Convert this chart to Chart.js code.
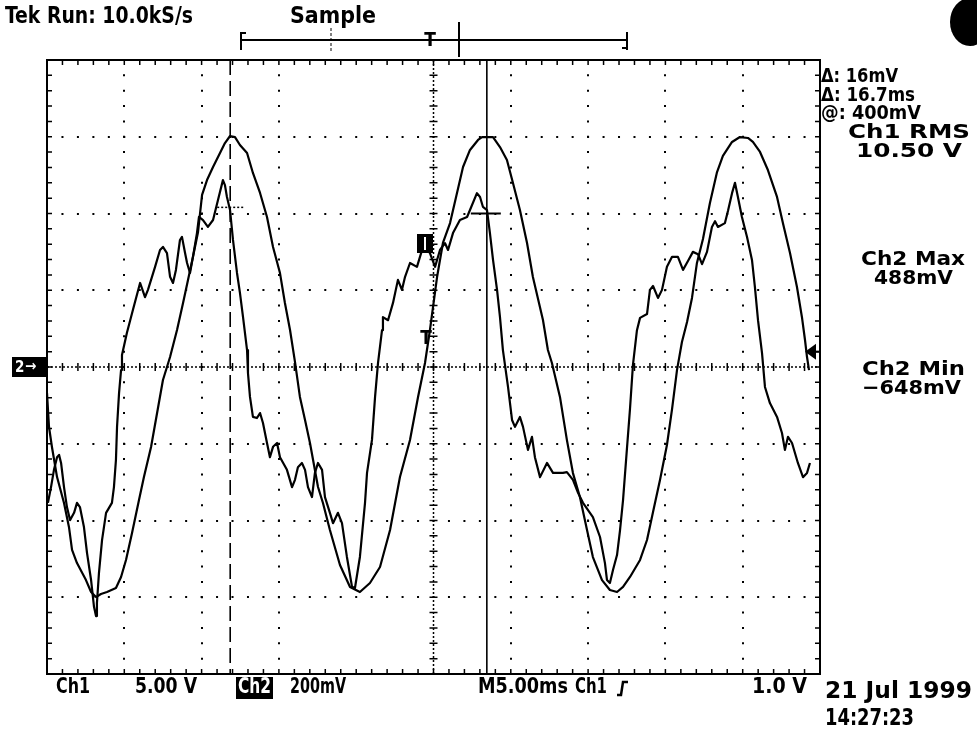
<!DOCTYPE html>
<html>
<head>
<meta charset="utf-8">
<script src="https://cdn.jsdelivr.net/npm/chart.js@4.4.1/dist/chart.umd.min.js"></script>
<style>
  html, body { margin: 0; padding: 0; background: #fff; }
  canvas { display: block; }
</style>
</head>
<body>
<canvas id="scope" width="977" height="729"></canvas>
<script>
// Time base: 5 ms/div over 10 divisions
const timeTicks = [0, 5, 10, 15, 20, 25, 30, 35, 40, 45, 50];
// Ch1: 5.00 V/div, Ch2: 200 mV/div, 8 divisions each
const ch1Ticks = [-20, -15, -10, -5, 0, 5, 10, 15, 20];
const ch2Range = [-800, 800];

// Ch1 trace (ms, V)
const ch1Time = [0.00, 0.13, 0.32, 0.65, 1.10, 1.42, 1.62, 1.94, 2.52, 2.85,
  3.17, 3.49, 3.88, 4.46, 4.79, 5.11, 5.50, 5.95, 6.27, 6.73,
  7.50, 7.96, 8.41, 8.80, 9.12, 9.44, 9.77, 10.03, 10.35, 10.74,
  11.19, 11.51, 11.84, 12.16, 12.48, 12.94, 13.32, 13.78, 14.23, 14.62,
  15.07, 15.39, 15.72, 16.04, 16.36, 16.69, 17.01, 17.53, 17.85, 18.30,
  18.95, 19.60, 20.24, 20.89, 21.54, 22.19, 22.83, 23.48, 24.00, 24.45,
  24.77, 25.23, 25.61, 26.07, 26.52, 26.91, 27.36, 27.88, 28.14, 28.85,
  29.30, 29.75, 30.14, 30.59, 31.05, 31.43, 32.08, 32.40, 32.66, 33.18,
  33.63, 34.02, 34.47, 34.93, 35.31, 35.90, 36.41, 36.87, 37.26, 37.71,
  38.36, 38.81, 39.20, 39.65, 40.10, 40.43, 40.75, 41.07, 41.40, 41.72,
  42.04, 42.43, 42.88, 43.34, 43.72, 44.31, 44.82, 45.34, 45.66, 46.12,
  46.63, 47.22, 47.60, 48.06, 48.51, 48.83, 49.03, 49.16, 49.29];
const ch1Volts = [-1.69, -3.91, -5.21, -7.17, -8.86, -10.42, -11.92, -12.77, -13.88, -14.66,
  -14.99, -14.79, -14.66, -14.40, -13.68, -12.57, -10.81, -8.66, -7.17, -5.21,
  -0.85, 0.65, 2.41, 4.17, 5.67, 7.17, 8.80, 11.21, 12.18, 13.03,
  13.94, 14.59, 15.05, 14.98, 14.46, 13.94, 12.64, 11.34, 9.77, 7.82,
  6.12, 4.17, 2.41, 0.33, -1.95, -3.45, -4.95, -7.82, -8.86, -10.62,
  -12.90, -14.33, -14.66, -14.07, -13.03, -10.62, -7.17, -4.76, -1.95, 0.26,
  2.41, 5.86, 8.08, 9.38, 11.34, 13.03, 14.14, 14.79, 14.98, 14.98,
  14.33, 13.49, 11.99, 10.23, 8.08, 5.86, 3.06, 1.11, 0.26, -1.95,
  -4.76, -6.91, -8.47, -10.62, -12.38, -13.88, -14.53, -14.66, -14.33, -13.68,
  -12.57, -11.27, -9.45, -7.36, -5.08, -2.74, -0.20, 1.63, 2.93, 4.50,
  6.78, 8.34, 10.68, 12.70, 13.75, 14.66, 14.98, 14.92, 14.66, 14.01,
  12.83, 11.08, 9.38, 7.43, 5.21, 3.26, 1.76, 0.65, -0.20];

// Ch2 trace (ms, mV)
const ch2Time = [0.06, 0.26, 0.45, 0.65, 0.78, 0.91, 1.10, 1.29, 1.49, 1.75,
  1.94, 2.13, 2.39, 2.59, 2.85, 3.04, 3.17, 3.23, 3.36, 3.56,
  3.82, 4.01, 4.20, 4.33, 4.46, 4.53, 4.66, 4.79, 4.85, 5.17,
  5.56, 6.02, 6.34, 6.53, 6.79, 6.99, 7.31, 7.50, 7.76, 7.96,
  8.15, 8.34, 8.60, 8.73, 8.93, 9.06, 9.25, 9.44, 9.70, 9.83,
  10.09, 10.41, 10.74, 11.06, 11.38, 11.51, 11.64, 11.84, 12.03, 12.29,
  12.48, 12.68, 12.94, 13.00, 13.13, 13.32, 13.58, 13.78, 13.97, 14.23,
  14.42, 14.62, 14.88, 15.07, 15.52, 15.85, 16.04, 16.23, 16.49, 16.69,
  16.88, 17.14, 17.33, 17.53, 17.79, 17.98, 18.30, 18.50, 18.82, 19.08,
  19.40, 19.73, 19.92, 20.24, 20.57, 20.70, 21.02, 21.22, 21.41, 21.67,
  21.73, 22.06, 22.38, 22.70, 22.96, 23.16, 23.48, 23.93, 24.32, 24.77,
  25.10, 25.42, 25.74, 25.94, 26.26, 26.71, 27.17, 27.36, 27.81, 28.01,
  28.20, 28.46, 28.65, 28.85, 29.11, 29.30, 29.49, 29.82, 30.08, 30.27,
  30.59, 30.79, 31.11, 31.37, 31.56, 31.89, 32.34, 32.73, 33.37, 33.63,
  34.02, 34.35, 34.67, 35.31, 35.77, 36.09, 36.22, 36.41, 36.61, 36.87,
  37.06, 37.26, 37.51, 37.71, 37.90, 38.16, 38.36, 38.81, 39.00, 39.20,
  39.52, 39.78, 40.10, 40.43, 40.81, 41.14, 41.46, 41.78, 42.11, 42.37,
  42.69, 43.01, 43.21, 43.40, 43.85, 44.05, 44.31, 44.50, 44.69, 44.95,
  45.28, 45.60, 45.79, 45.99, 46.25, 46.44, 46.76, 47.22, 47.54, 47.73,
  47.93, 48.19, 48.57, 48.90, 49.16, 49.35];
const ch2MilliVolts = [-354, -313, -268, -235, -229, -250, -313, -365, -399, -380,
  -354, -365, -417, -485, -555, -625, -649, -615, -537, -451,
  -380, -367, -354, -313, -242, -156, -68, -8, 31, 89,
  149, 219, 182, 201, 235, 261, 305, 313, 297, 235,
  219, 253, 331, 339, 297, 271, 245, 287, 349, 391,
  383, 365, 383, 435, 487, 474, 443, 409, 331, 245,
  193, 130, 44, -16, -78, -130, -133, -120, -146, -198,
  -235, -208, -198, -235, -268, -313, -294, -261, -250, -268,
  -313, -339, -276, -250, -268, -339, -380, -407, -380, -407,
  -495, -573, -576, -495, -354, -276, -190, -78, 10, 96,
  130, 122, 167, 227, 201, 235, 271, 261, 313, 297,
  261, 305, 323, 305, 349, 383, 391, 409, 453, 443,
  417, 409, 349, 279, 201, 130, 44, -52, -138, -156,
  -130, -156, -216, -182, -235, -287, -250, -276, -276, -274,
  -294, -328, -354, -391, -443, -511, -555, -563, -529, -490,
  -427, -347, -214, -109, 5, 96, 128, 138, 201, 211,
  180, 201, 261, 287, 287, 253, 276, 300, 294, 268,
  300, 365, 380, 365, 375, 407, 453, 480, 443, 391,
  339, 279, 208, 122, 36, -52, -94, -130, -172, -216,
  -182, -198, -250, -287, -276, -250];

// Cursors: times (ms) and Ch2 levels (mV)
const cursorTimes = [11.85, 28.45];
const cursorLevels = [416, 400];
const triggerLevel = 1.0; // V on Ch1

const readouts = ['\u0394: 16mV', '\u0394: 16.7ms', '@: 400mV'];
const measurements = [['Ch1 RMS', '10.50 V'], ['Ch2 Max', '488mV'], ['Ch2 Min', '\u2212648mV']];

const toPoints = (xs, ys) => xs.map((x, i) => ({ x: x, y: ys[i] }));

const COND = '"DejaVu Sans Condensed", "Liberation Sans Narrow", "DejaVu Sans", sans-serif';
const WIDE = '"DejaVu Sans", "Liberation Sans", sans-serif';

// draw text stretched to a given left/right extent
function fitText(ctx, s, x1, x2, cy, px, fam) {
  ctx.font = 'bold ' + px + 'px ' + fam;
  const w = ctx.measureText(s).width;
  ctx.save();
  ctx.translate(x1, cy);
  ctx.scale((x2 - x1) / w, 1);
  ctx.textBaseline = 'middle';
  ctx.textAlign = 'left';
  ctx.fillText(s, 0, 0);
  ctx.restore();
}

const scopeDecor = {
  id: 'scopeDecor',
  beforeDraw(chart) {
    const c = chart.ctx;
    c.save();
    c.fillStyle = '#fff';
    c.fillRect(0, 0, chart.width, chart.height);
    c.restore();
  },
  beforeDatasetsDraw(chart) {
    const c = chart.ctx, a = chart.chartArea;
    const xs = chart.scales.x, ys = chart.scales.y;
    const x0 = xs.getPixelForValue(25), y0 = ys.getPixelForValue(0);
    c.save();
    c.strokeStyle = '#000';
    // dense centre graticule
    c.lineWidth = 1.5;
    c.setLineDash([2, 2]);
    c.beginPath();
    c.moveTo(a.left, y0); c.lineTo(a.right, y0);
    c.moveTo(x0, a.top); c.lineTo(x0, a.bottom);
    c.stroke();
    c.setLineDash([]);
    c.beginPath();
    for (let t = 0; t <= 50; t += 1) {
      const px = xs.getPixelForValue(t);
      c.moveTo(px, y0 - 4); c.lineTo(px, y0 + 4);
      c.moveTo(px, a.top); c.lineTo(px, a.top + 5);
      c.moveTo(px, a.bottom); c.lineTo(px, a.bottom - 5);
    }
    for (let v = -20; v <= 20; v += 1) {
      const py = ys.getPixelForValue(v);
      c.moveTo(x0 - 4, py); c.lineTo(x0 + 4, py);
      c.moveTo(a.left, py); c.lineTo(a.left + 5, py);
      c.moveTo(a.right, py); c.lineTo(a.right - 5, py);
    }
    c.stroke();
    // frame
    c.lineWidth = 2;
    c.strokeRect(a.left, a.top, a.right - a.left, a.bottom - a.top);
    c.restore();
  },
  afterDatasetsDraw(chart) {
    const c = chart.ctx, a = chart.chartArea;
    const xs = chart.scales.x, ys = chart.scales.y, y2 = chart.scales.y2;
    const c1 = xs.getPixelForValue(cursorTimes[0]);
    const c2 = xs.getPixelForValue(cursorTimes[1]);
    c.save();
    c.strokeStyle = '#000';
    c.fillStyle = '#000';
    // cursors
    c.lineWidth = 1.6;
    c.setLineDash([15, 6]);
    c.beginPath(); c.moveTo(c1, a.top); c.lineTo(c1, a.bottom); c.stroke();
    c.setLineDash([]);
    c.beginPath(); c.moveTo(c2, a.top); c.lineTo(c2, a.bottom); c.stroke();
    // cursor level markers
    c.lineWidth = 2;
    c.beginPath();
    c.moveTo(c2 - 16, y2.getPixelForValue(cursorLevels[1]));
    c.lineTo(c2 + 14, y2.getPixelForValue(cursorLevels[1]));
    c.stroke();
    c.setLineDash([2, 2]);
    c.lineWidth = 1.5;
    c.beginPath();
    c.moveTo(c1 - 13, y2.getPixelForValue(cursorLevels[0]));
    c.lineTo(c1 + 13, y2.getPixelForValue(cursorLevels[0]));
    c.stroke();
    c.setLineDash([]);
    // trigger level arrow on right edge
    const ty = ys.getPixelForValue(triggerLevel);
    c.beginPath();
    c.moveTo(a.right - 15, ty); c.lineTo(a.right - 4, ty - 8); c.lineTo(a.right - 4, ty + 8);
    c.closePath(); c.fill();
    c.lineWidth = 2;
    c.beginPath(); c.moveTo(a.right - 6, ty); c.lineTo(a.right, ty); c.stroke();
    // Ch2 ground marker
    const gy = y2.getPixelForValue(0);
    c.fillRect(12, gy - 10, a.left - 13, 20);
    c.fillStyle = '#fff';
    c.font = 'bold 15px ' + COND;
    c.textBaseline = 'middle';
    c.fillText('2', 15, gy + 1);
    c.fillText('\u2192', 25, gy);
    c.fillStyle = '#000';
    // small trace markers near centre
    c.fillRect(417, 234, 16, 19);
    c.fillStyle = '#fff';
    c.fillRect(424, 237, 2, 13);
    c.fillStyle = '#000';
    c.font = 'bold 19px ' + COND;
    c.textAlign = 'center';
    c.fillText('T', 426, 339);
    c.restore();
  },
  afterDraw(chart) {
    const c = chart.ctx;
    c.save();
    c.fillStyle = '#000';
    c.strokeStyle = '#000';
    // header
    fitText(c, 'Tek Run: 10.0kS/s', 5, 193, 17, 23, COND);
    fitText(c, 'Sample', 290, 376, 17, 23, COND);
    // record bracket
    c.lineWidth = 2;
    c.beginPath();
    c.moveTo(242, 40); c.lineTo(626, 40);
    c.moveTo(241, 32); c.lineTo(241, 50);
    c.moveTo(627, 32); c.lineTo(627, 50);
    c.moveTo(241, 33); c.lineTo(246, 33);
    c.moveTo(627, 48); c.lineTo(622, 48);
    c.moveTo(459, 22); c.lineTo(459, 57);
    c.stroke();
    c.lineWidth = 1;
    c.setLineDash([3, 2]);
    c.beginPath(); c.moveTo(331, 28); c.lineTo(331, 52); c.stroke();
    c.setLineDash([]);
    c.font = 'bold 19px ' + COND;
    c.textAlign = 'center';
    c.textBaseline = 'middle';
    c.fillText('T', 430, 41);
    // corner blot
    c.beginPath(); c.ellipse(970, 22, 20, 24, 0, 0, Math.PI * 2); c.fill();
    // cursor readouts
    fitText(c, readouts[0], 821, 898, 77, 20, COND);
    fitText(c, readouts[1], 821, 915, 96, 20, COND);
    fitText(c, readouts[2], 821, 921, 114, 20, COND);
    // measurements
    fitText(c, measurements[0][0], 848, 970, 133, 20, WIDE);
    fitText(c, measurements[0][1], 856, 962, 152, 20, WIDE);
    fitText(c, measurements[1][0], 861, 965, 260, 20, WIDE);
    fitText(c, measurements[1][1], 874, 953, 279, 20, WIDE);
    fitText(c, measurements[2][0], 862, 965, 370, 20, WIDE);
    fitText(c, measurements[2][1], 862, 961, 389, 20, WIDE);
    // bottom status line
    fitText(c, 'Ch1', 56, 90, 688, 21, COND);
    fitText(c, '5.00 V', 135, 197, 688, 21, COND);
    c.fillRect(236, 677, 37, 22);
    c.fillStyle = '#fff';
    fitText(c, 'Ch2', 238, 271, 688, 21, COND);
    c.fillStyle = '#000';
    fitText(c, '200mV', 290, 346, 688, 21, COND);
    fitText(c, 'M5.00ms', 478, 568, 688, 21, COND);
    fitText(c, 'Ch1', 575, 607, 688, 21, COND);
    c.lineWidth = 2.5;
    c.beginPath();
    c.moveTo(617, 695); c.lineTo(621, 695); c.lineTo(623, 682); c.lineTo(628, 682);
    c.stroke();
    fitText(c, '1.0 V', 752, 807, 688, 21, COND);
    fitText(c, '21 Jul 1999', 825, 972, 692, 23, COND);
    fitText(c, '14:27:23', 825, 914, 719, 23, COND);
    c.restore();
  }
};

const gridColor = (c) => {
  const v = c.tick ? c.tick.value : null;
  return (v === 25 || v === 0 || v === 50 || v === -20 || v === 20) ? 'rgba(0,0,0,0)' : '#000';
};

new Chart(document.getElementById('scope'), {
  type: 'line',
  data: {
    datasets: [
      {
        label: 'Ch1',
        data: toPoints(ch1Time, ch1Volts),
        yAxisID: 'y',
        borderColor: '#000',
        borderWidth: 2.2,
        pointRadius: 0,
        tension: 0,
        borderJoinStyle: 'round'
      },
      {
        label: 'Ch2',
        data: toPoints(ch2Time, ch2MilliVolts),
        yAxisID: 'y2',
        borderColor: '#000',
        borderWidth: 2.2,
        pointRadius: 0,
        tension: 0,
        borderJoinStyle: 'round'
      }
    ]
  },
  options: {
    responsive: false,
    animation: false,
    devicePixelRatio: 1,
    layout: { padding: { left: 47, top: 60, right: 157, bottom: 55 } },
    plugins: { legend: { display: false }, tooltip: { enabled: false } },
    scales: {
      x: {
        type: 'linear',
        min: timeTicks[0],
        max: timeTicks[timeTicks.length - 1],
        afterBuildTicks: (s) => { s.ticks = timeTicks.map(v => ({ value: v })); },
        afterFit: (s) => { s.height = 0; },
        ticks: { display: false },
        grid: { color: gridColor, lineWidth: 2, drawTicks: false },
        border: {
          display: false,
          dash: (c) => [2, (c.chart.chartArea ? c.chart.chartArea.height : 614) / 40 - 2],
          dashOffset: 1
        }
      },
      y: {
        min: ch1Ticks[0],
        max: ch1Ticks[ch1Ticks.length - 1],
        afterBuildTicks: (s) => { s.ticks = ch1Ticks.map(v => ({ value: v })); },
        afterFit: (s) => { s.width = 0; },
        ticks: { display: false },
        grid: { color: gridColor, lineWidth: 2, drawTicks: false },
        border: {
          display: false,
          dash: (c) => [2, (c.chart.chartArea ? c.chart.chartArea.width : 773) / 50 - 2],
          dashOffset: 1
        }
      },
      y2: {
        display: false,
        min: ch2Range[0],
        max: ch2Range[1]
      }
    }
  },
  plugins: [scopeDecor]
});
</script>
</body>
</html>
